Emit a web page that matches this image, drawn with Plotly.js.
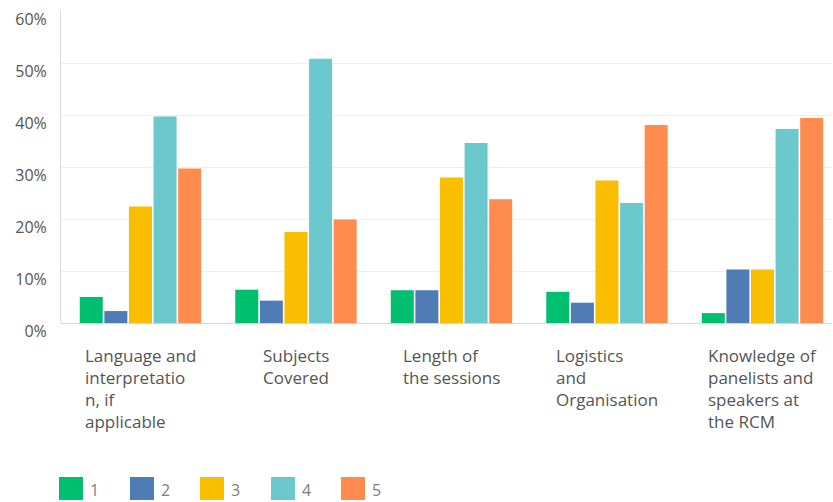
<!DOCTYPE html>
<html>
<head>
<meta charset="utf-8">
<script src="https://cdn.plot.ly/plotly-3.0.1.min.js"></script>
<style>html,body{margin:0;padding:0;background:#fff;}#chart{width:833px;height:502px;}</style>
</head>
<body>
<div id="chart"></div>
<script>
// Categories (tick labels with the line breaks as shown)
var categoryLabels = [
  "Language and<br>interpretatio<br>n, if<br>applicable",
  "Subjects<br>Covered",
  "Length of<br>the sessions",
  "Logistics<br>and<br>Organisation",
  "Knowledge of<br>panelists and<br>speakers at<br>the RCM"
];
var seriesNames = ["1", "2", "3", "4", "5"];
var seriesColors = ["#00BF6F", "#507CB6", "#F9BE00", "#6BC8CD", "#FF8B4F"];
// Percent values per rating
var rating1 = [5.0, 6.4, 6.3, 6.0, 1.9];
var rating2 = [2.3, 4.3, 6.3, 3.9, 10.3];
var rating3 = [22.4, 17.5, 28.0, 27.4, 10.3];
var rating4 = [39.7, 50.8, 34.6, 23.1, 37.3];
var rating5 = [29.7, 19.9, 23.8, 38.1, 39.4];
var seriesValues = [rating1, rating2, rating3, rating4, rating5];
var yTickValues = [0, 10, 20, 30, 40, 50, 60];
var yTickLabels = ["0%", "10%", "20%", "30%", "40%", "50%", "60%"];

var xIdx = categoryLabels.map(function(_, i){ return i; });
var traces = seriesValues.map(function(vals, s){
  return {
    type: 'bar', x: xIdx, y: vals, name: seriesNames[s],
    marker: {color: seriesColors[s]}, showlegend: false,
    hovertemplate: '%{y}%<extra>' + seriesNames[s] + '</extra>'
  };
});

var annotations = [];
categoryLabels.forEach(function(lbl, i){
  annotations.push({
    x: i, xref: 'x', y: 0, yref: 'paper', yanchor: 'top', xanchor: 'center',
    yshift: -19, text: lbl, showarrow: false, align: 'left',
    font: {family: 'Open Sans', size: 17, color: '#555'}
  });
});
seriesNames.forEach(function(n, s){
  var cx = -2 + s * 70.5;
  annotations.push({
    x: 0, xref: 'paper', y: 0, yref: 'paper', xanchor: 'left', yanchor: 'middle',
    xshift: cx, yshift: -165, text: ' ', showarrow: false, width: 24, height: 23,
    bgcolor: seriesColors[s], borderpad: 0, borderwidth: 0,
    font: {size: 10}
  });
  annotations.push({
    x: 0, xref: 'paper', y: 0, yref: 'paper', xanchor: 'left', yanchor: 'middle',
    xshift: cx + 29, yshift: -167, text: n, showarrow: false,
    font: {family: 'Open Sans', size: 16, color: '#808080'}
  });
});

var layout = {
  width: 833, height: 502,
  margin: {l: 61, r: 1, t: 11, b: 179},
  paper_bgcolor: '#fff', plot_bgcolor: '#fff',
  barmode: 'group', bargap: 0.209, bargroupgap: 0.065,
  showlegend: false,
  xaxis: {range: [-0.511, 4.447], showticklabels: false, showgrid: false,
          zeroline: false, showline: false, fixedrange: true},
  yaxis: {range: [0, 60], tickmode: 'array', tickvals: yTickValues, ticktext: yTickLabels,
          showgrid: true, gridcolor: '#f0f0f0', gridwidth: 1,
          zeroline: true, zerolinecolor: '#d6d6d6', zerolinewidth: 1,
          showline: true, linecolor: '#dcdcdc', linewidth: 1,
          ticks: '', ticklabelstandoff: 10, ticklabelshift: 8,
          tickfont: {family: 'Open Sans', size: 16, color: '#555'}, fixedrange: true},
  annotations: annotations
};
Plotly.newPlot('chart', traces, layout, {displayModeBar: false, staticPlot: true});
</script>
</body>
</html>
